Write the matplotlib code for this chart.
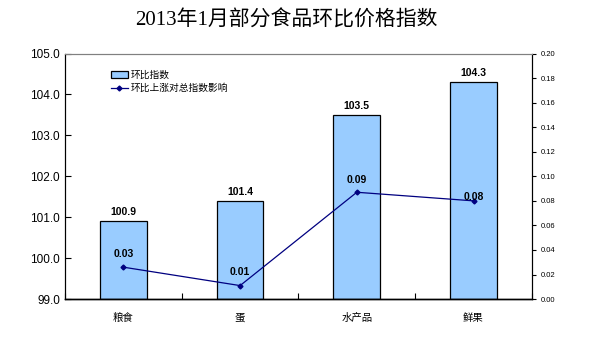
import numpy as np
import matplotlib
matplotlib.use('Agg')
import matplotlib.pyplot as plt

plt.rcParams['font.family'] = ['Liberation Sans', 'Noto Sans CJK SC', 'DejaVu Sans']

categories = ['粮食', '蛋', '水产品', '鲜果']
index_values = [100.9, 101.4, 103.5, 104.3]
impact_values = [0.026, 0.011, 0.087, 0.080]
impact_labels = ['0.03', '0.01', '0.09', '0.08']
impact_offsets = [9.5, 9.5, 9, 3]

x = np.arange(len(categories))

fig = plt.figure(figsize=(5.91, 3.43), dpi=100)
ax = fig.add_axes([0.11, 0.128, 0.79, 0.716])
ax2 = ax.twinx()

bars = ax.bar(x, np.array(index_values) - 99, bottom=99, width=0.4,
              color='#99CCFF', edgecolor='black', linewidth=0.9, label='环比指数')
ax.set_xlim(-0.5, 3.5)
ax.set_ylim(99, 105)
ax.set_yticks(np.arange(99, 105.1, 1))
ax.set_yticklabels([f'{v:.1f}' for v in np.arange(99, 105.1, 1)], fontsize=8.5)
ax.tick_params(axis='y', direction='in', length=4, width=0.8)
ax.set_xticks(np.arange(-0.5, 3.6, 1))
ax.set_xticklabels([])
ax.tick_params(axis='x', direction='in', length=4, width=0.8)
for i, c in enumerate(categories):
    ax.text(x[i], 98.55, c, ha='center', va='center', fontsize=7.5)

for i, v in enumerate(index_values):
    ax.annotate(f'{v:.1f}', (x[i], v), xytext=(0, 6.5), textcoords='offset points',
                ha='center', va='center', fontsize=7.5, fontweight='bold')

line, = ax2.plot(x, impact_values, color='#000080', linewidth=0.9,
                 marker='D', markersize=2.5, label='环比上涨对总指数影响')
ax2.set_ylim(0, 0.2)
ax2.set_yticks(np.arange(0, 0.201, 0.02))
ax2.set_yticklabels([f'{v:.2f}' for v in np.arange(0, 0.201, 0.02)], fontsize=5.5)
ax2.tick_params(axis='y', direction='out', length=3, width=0.8)
for i, v in enumerate(impact_values):
    ax2.annotate(impact_labels[i], (x[i], v), xytext=(0, impact_offsets[i]),
                 textcoords='offset points', ha='center', va='center',
                 fontsize=7.5, fontweight='bold')

for a in (ax, ax2):
    a.spines['top'].set_color('#808080')
    a.spines['left'].set_color('black')
    a.spines['right'].set_color('black')
    a.spines['bottom'].set_color('black')
    a.spines['bottom'].set_linewidth(1.0)

ax2.legend([bars, line], ['环比指数', '环比上涨对总指数影响'], loc='upper left',
           bbox_to_anchor=(0.08, 0.97), frameon=False,
           handlelength=1.7, handletextpad=0.3, labelspacing=0.35,
           prop={'family': ['Noto Sans CJK SC'], 'size': 7})

fig.text(0.485, 0.94, '2013年1月部分食品环比价格指数', ha='center', va='center',
         fontsize=15, family=['Liberation Serif', 'Noto Sans CJK SC'])

fig.savefig('out.png', dpi=100)
